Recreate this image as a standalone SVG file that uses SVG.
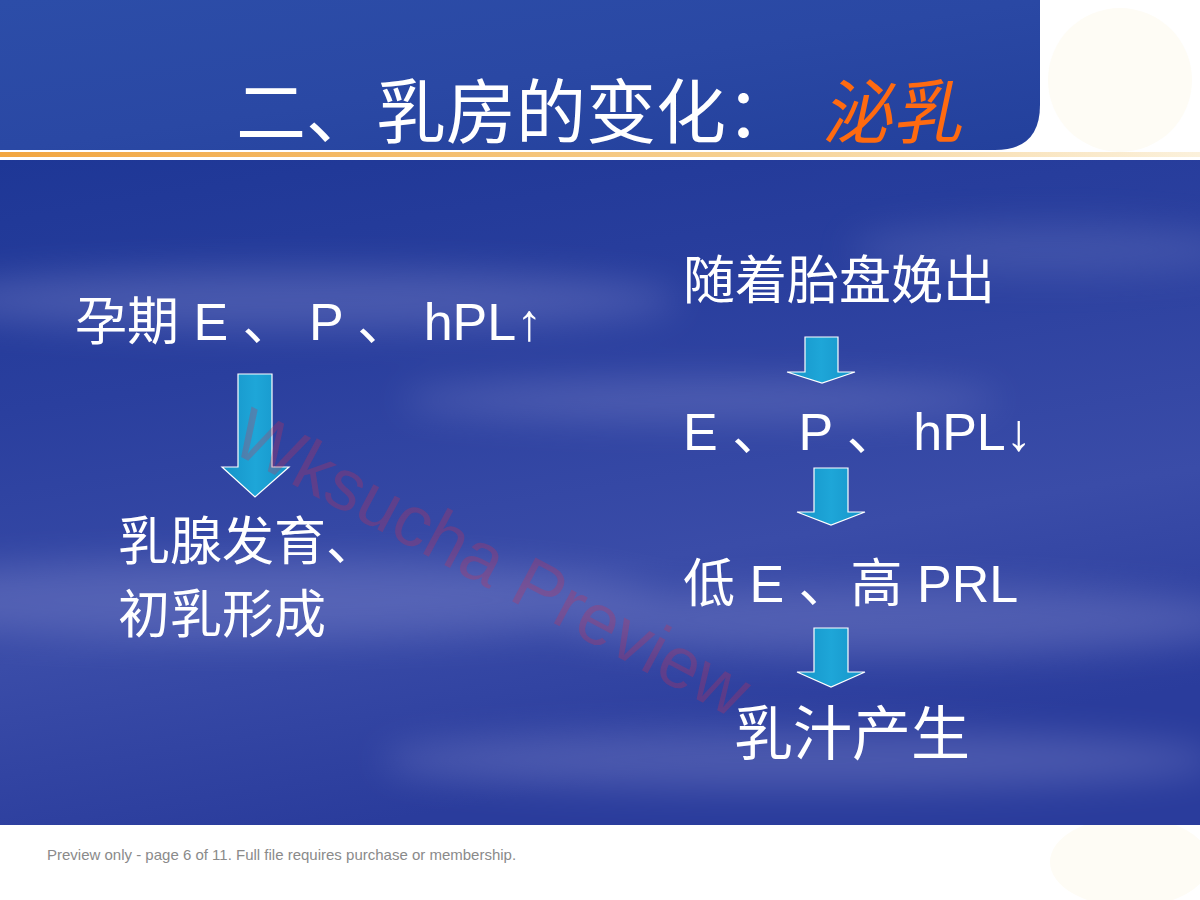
<svg xmlns="http://www.w3.org/2000/svg" width="1200" height="900" viewBox="0 0 1200 900">
  <defs>
    <linearGradient id="hdr" x1="0" y1="0" x2="1" y2="1">
      <stop offset="0" stop-color="#2C4DA8"/>
      <stop offset="0.5" stop-color="#2A48A4"/>
      <stop offset="1" stop-color="#23409C"/>
    </linearGradient>
    <linearGradient id="main" x1="0" y1="0" x2="0.3" y2="1">
      <stop offset="0" stop-color="#1E3796"/>
      <stop offset="0.35" stop-color="#2A3F9E"/>
      <stop offset="0.7" stop-color="#3A4CA8"/>
      <stop offset="1" stop-color="#2A3C9C"/>
    </linearGradient>
    <linearGradient id="line" x1="0" y1="0" x2="1" y2="0">
      <stop offset="0" stop-color="#F2A640"/>
      <stop offset="0.6" stop-color="#F6CF8E"/>
      <stop offset="1" stop-color="#FBF1DC"/>
    </linearGradient>
    <linearGradient id="arrowFill" x1="0" y1="0" x2="1" y2="0">
      <stop offset="0" stop-color="#1593C8"/>
      <stop offset="0.5" stop-color="#1EA6D8"/>
      <stop offset="1" stop-color="#1593C8"/>
    </linearGradient>
    <filter id="blur" x="-20%" y="-50%" width="140%" height="200%">
      <feGaussianBlur stdDeviation="18"/>
    </filter>
    <style>
      .t { font-family: "Liberation Sans", "Noto Sans CJK SC", sans-serif; fill: #FFFFFF; }
      .arrow { fill: url(#arrowFill); stroke: #FFFFFF; stroke-width: 1.2; }
    </style>
  </defs>

  <!-- page background -->
  <rect x="0" y="0" width="1200" height="900" fill="#FFFFFF"/>
  <ellipse cx="1120" cy="80" rx="72" ry="72" fill="#FEFCF5"/>
  <ellipse cx="1130" cy="862" rx="80" ry="45" fill="#FEFCF5"/>

  <!-- header panel -->
  <path d="M0,0 H1040 V105 Q1040,150 995,150 H0 Z" fill="url(#hdr)"/>
  <rect x="0" y="152" width="1200" height="5" fill="url(#line)"/>

  <!-- main panel -->
  <rect x="0" y="160" width="1200" height="665" fill="url(#main)"/>
  <g filter="url(#blur)" opacity="0.35">
    <ellipse cx="300" cy="300" rx="380" ry="30" fill="#8A90D0"/>
    <ellipse cx="700" cy="400" rx="300" ry="20" fill="#8A90D0"/>
    <ellipse cx="250" cy="600" rx="420" ry="40" fill="#8A90D0"/>
    <ellipse cx="900" cy="620" rx="350" ry="35" fill="#8A90D0"/>
    <ellipse cx="800" cy="760" rx="420" ry="30" fill="#8A90D0"/>
    <ellipse cx="1050" cy="250" rx="200" ry="25" fill="#6A78C0"/>
  </g>

  <!-- title -->
  <g id="title">
    <text class="t" x="236" y="138" font-size="70">二、乳房的变化：</text>
    <text x="822" y="138" font-size="70" fill="#FF6A10" font-family="Liberation Sans, Noto Sans CJK SC, sans-serif" transform="translate(822,138) skewX(-12) translate(-822,-138)">泌乳</text>
  </g>

  <!-- left column -->
  <g id="n-pregnancy">
    <text class="t" x="75" y="340" font-size="52">孕期 E 、 P 、 hPL↑</text>
  </g>
  <g id="n-development">
    <text class="t" x="118" y="560" font-size="52">乳腺发育、</text>
    <text class="t" x="118" y="633" font-size="52">初乳形成</text>
  </g>

  <!-- right column -->
  <g id="n-placenta">
    <text class="t" x="683" y="299" font-size="52">随着胎盘娩出</text>
  </g>
  <g id="n-hormones-down">
    <text class="t" x="683" y="450" font-size="52">E 、 P 、 hPL↓</text>
  </g>
  <g id="n-prl">
    <text class="t" x="683" y="602" font-size="52">低 E 、高 PRL</text>
  </g>
  <g id="n-milk">
    <text class="t" x="734" y="755" font-size="59">乳汁产生</text>
  </g>

  <!-- connectors (block arrows) -->
  <g id="connectors">
    <path class="arrow" d="M238,374 H272 V467 H289 L255,497 L222,467 H238 Z"/>
    <path class="arrow" d="M805,337 H838 V372 H855 L822,383 L787,372 H805 Z"/>
    <path class="arrow" d="M814,468 H848 V512 H865 L831,525 L797,512 H814 Z"/>
    <path class="arrow" d="M814,628 H848 V672 H865 L831,687 L797,672 H814 Z"/>
  </g>

  <!-- footer -->
  <text x="47" y="860" font-size="15" fill="#8A8A8A" font-family="Liberation Sans, sans-serif">Preview only - page 6 of 11. Full file requires purchase or membership.</text>

  <!-- watermark -->
  <text x="0" y="0" font-size="72" fill="#D03050" fill-opacity="0.28" font-family="Liberation Sans, sans-serif" transform="translate(228,450) rotate(28)">Wksucha Preview</text>
</svg>
